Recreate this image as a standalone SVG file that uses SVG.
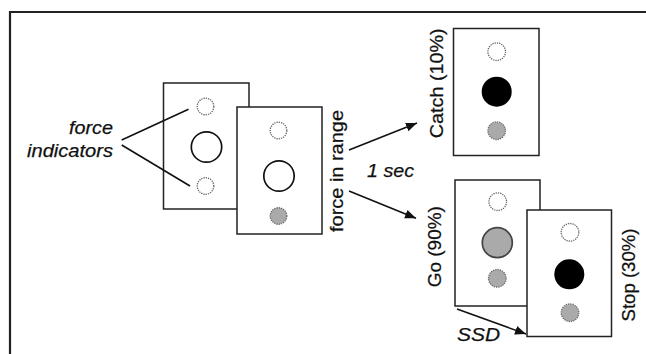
<svg xmlns="http://www.w3.org/2000/svg" width="646" height="354" viewBox="0 0 646 354">
<style>
.t{font-family:"Liberation Sans",Arial,Helvetica,sans-serif;font-size:19px;fill:#111;stroke:#111;stroke-width:0.25}
.i{font-style:italic}
.panel{fill:#fff;stroke:#222;stroke-width:1.5}
.sm{stroke:#666;stroke-width:1.3;stroke-dasharray:1.3 1}
.w{fill:#fff}
.g{fill:#aaa}
.big{fill:#fff;stroke:#111;stroke-width:1.7}
.blk{fill:#000}
.gbig{fill:#aaa;stroke:#444;stroke-width:1.7}
.ln{stroke:#111;stroke-width:1.6;fill:none}
</style>
<defs>
<marker id="ah" markerUnits="userSpaceOnUse" markerWidth="12" markerHeight="10" refX="11" refY="4.5" orient="auto">
<path d="M0,0 L11,4.5 L0,9 z" fill="#111"/>
</marker>
</defs>
<rect width="646" height="354" fill="#fff"/>
<path d="M10,354 V12 H646" fill="none" stroke="#222" stroke-width="2.2"/>

<g id="label-force-indicators">
<text class="t i" x="113" y="134" text-anchor="end" textLength="44" lengthAdjust="spacingAndGlyphs">force</text>
<text class="t i" x="113" y="156.7" text-anchor="end" textLength="86" lengthAdjust="spacingAndGlyphs">indicators</text>
</g>

<g id="screen1">
<rect class="panel" x="163.5" y="83" width="85.5" height="126"/>
<circle class="sm w" cx="205.5" cy="106.5" r="8.3"/>
<circle class="big" cx="206.5" cy="147" r="15.2"/>
<circle class="sm w" cx="205.5" cy="186" r="8.3"/>
</g>

<g id="screen2">
<rect class="panel" x="237" y="107" width="85" height="127"/>
<circle class="sm w" cx="278.5" cy="130.5" r="8.3"/>
<circle class="big" cx="279" cy="176" r="15.2"/>
<circle class="sm g" cx="278.5" cy="216" r="8.3"/>
</g>

<g id="label-force-in-range">
<text class="t" transform="translate(343.3,171) rotate(-90)" x="0" y="0" text-anchor="middle" textLength="122" lengthAdjust="spacingAndGlyphs">force in range</text>
</g>

<g id="label-1sec">
<text class="t i" x="367" y="177.3" textLength="47" lengthAdjust="spacingAndGlyphs">1 sec</text>
</g>

<g id="screen-catch">
<rect class="panel" x="453.5" y="28.5" width="85.5" height="127"/>
<circle class="sm w" cx="496.7" cy="51.7" r="8.8"/>
<circle class="blk" cx="496.7" cy="91.7" r="15"/>
<circle class="sm g" cx="496.7" cy="130.7" r="8.8"/>
<text class="t" transform="translate(443.3,83.3) rotate(-90)" text-anchor="middle" textLength="110" lengthAdjust="spacingAndGlyphs">Catch (10%)</text>
</g>

<g id="screen-go">
<rect class="panel" x="455" y="180" width="85" height="126"/>
<circle class="sm w" cx="497.7" cy="201.7" r="8.8"/>
<circle class="gbig" cx="497.3" cy="242.7" r="15"/>
<circle class="sm g" cx="497.3" cy="278.3" r="8.8"/>
<text class="t" transform="translate(441,246.7) rotate(-90)" text-anchor="middle" textLength="81" lengthAdjust="spacingAndGlyphs">Go (90%)</text>
</g>

<g id="screen-stop">
<rect class="panel" x="527" y="210" width="84.5" height="126.5"/>
<circle class="sm w" cx="570" cy="232.3" r="8.8"/>
<circle class="blk" cx="569.3" cy="274.3" r="15"/>
<circle class="sm g" cx="570" cy="312.7" r="8.8"/>
<text class="t" transform="translate(635,275) rotate(-90)" text-anchor="middle" textLength="93" lengthAdjust="spacingAndGlyphs">Stop (30%)</text>
</g>

<g id="label-ssd">
<text class="t i" x="457" y="341" textLength="43" lengthAdjust="spacingAndGlyphs">SSD</text>
</g>

<g id="connectors">
<line class="ln" x1="121.7" y1="140" x2="188.5" y2="109.3"/>
<line class="ln" x1="121.7" y1="145" x2="190" y2="186"/>
<line class="ln" x1="349" y1="150" x2="417" y2="123" marker-end="url(#ah)"/>
<line class="ln" x1="349" y1="191" x2="416" y2="218.3" marker-end="url(#ah)"/>
<line class="ln" x1="457" y1="309" x2="526" y2="334" marker-end="url(#ah)"/>
</g>
</svg>
